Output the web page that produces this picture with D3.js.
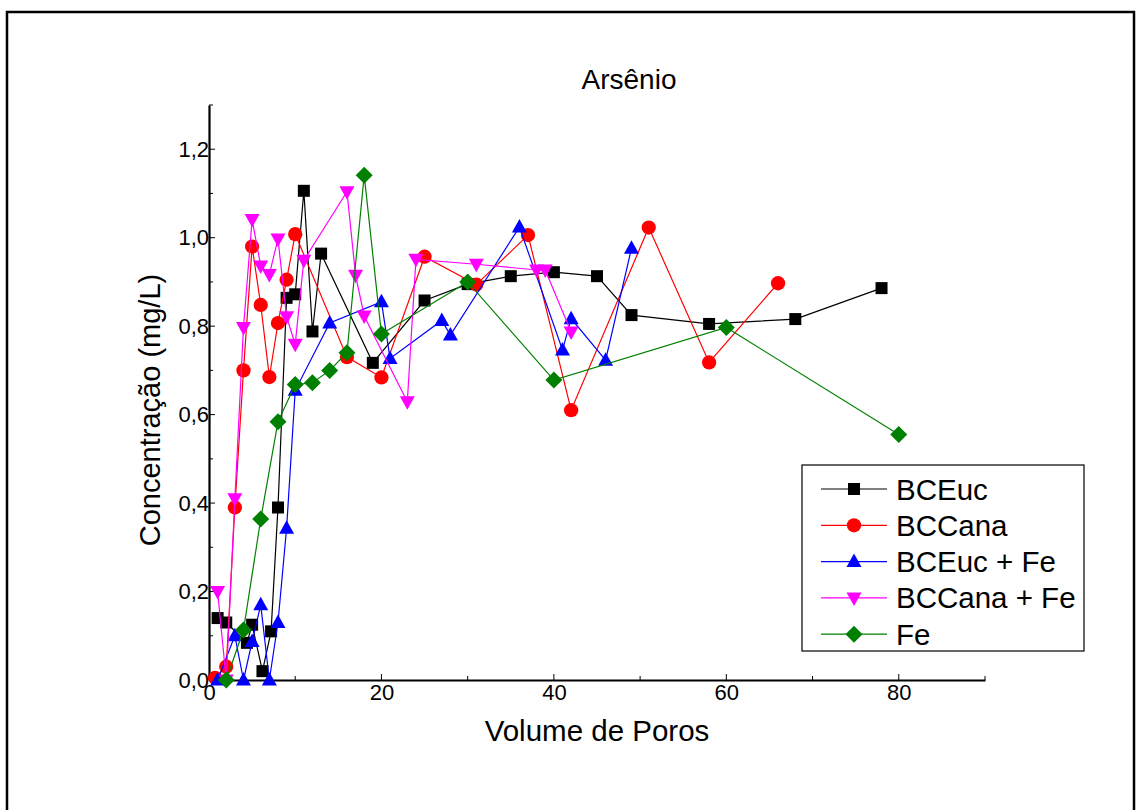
<!DOCTYPE html>
<html>
<head>
<meta charset="utf-8">
<script src="https://cdn.jsdelivr.net/npm/d3@7"></script>
<style>
body { margin: 0; background: #fff; }
text { font-family: "Liberation Sans", Arial, sans-serif; }
</style>
</head>
<body>
<div id="canvas"></div>
<script>
// ----------------------------------------------------------
// DATA -----------------------------------------------------
// ----------------------------------------------------------
var series_names = ["BCEuc", "BCCana", "BCEuc + Fe", "BCCana + Fe", "Fe"];

var bceuc_x = [1, 2, 4.4, 5, 6.2, 7.2, 8, 9, 10, 11, 12, 13, 19, 25, 30, 35, 40, 45, 49, 58, 68, 78];
var bceuc_y = [0.14, 0.13, 0.084, 0.125, 0.02, 0.11, 0.39, 0.864, 0.872, 1.106, 0.788, 0.964, 0.717, 0.858, 0.895, 0.913, 0.922, 0.913, 0.825, 0.805, 0.816, 0.886];

var bccana_x = [0.7, 2, 3, 4, 5, 6, 7, 8, 9, 10, 16, 20, 25, 31, 37, 42, 51, 58, 66];
var bccana_y = [0.005, 0.03, 0.39, 0.70, 0.98, 0.848, 0.685, 0.807, 0.905, 1.008, 0.73, 0.684, 0.957, 0.894, 1.006, 0.61, 1.023, 0.718, 0.897];

var bceucfe_x = [1, 3, 4, 5, 6, 7, 8, 9, 10, 14, 20, 21, 27, 28, 36, 41, 42, 46, 49];
var bceucfe_y = [0.0, 0.10, 0.0, 0.087, 0.17, 0.0, 0.13, 0.343, 0.655, 0.807, 0.855, 0.727, 0.813, 0.78, 1.024, 0.746, 0.817, 0.723, 0.976];

var bccanafe_x = [1, 2, 3, 4, 5, 6, 7, 8, 9, 10, 11, 16, 17, 18, 23, 24, 31, 38, 39, 42];
var bccanafe_y = [0.2, 0.0, 0.41, 0.797, 1.041, 0.936, 0.917, 0.997, 0.821, 0.759, 0.949, 1.104, 0.915, 0.823, 0.629, 0.951, 0.94, 0.927, 0.927, 0.787];

var fe_x = [2, 4, 6, 8, 10, 12, 14, 16, 18, 20, 30, 40, 60, 80];
var fe_y = [0.0, 0.113, 0.364, 0.584, 0.668, 0.672, 0.70, 0.74, 1.141, 0.782, 0.90, 0.678, 0.797, 0.555];

var x_ticks = [0, 20, 40, 60, 80];
var y_ticks = [0, 0.2, 0.4, 0.6, 0.8, 1.0, 1.2];

// ----------------------------------------------------------
// SETTINGS -------------------------------------------------
// ----------------------------------------------------------
var settings = {
  width: 1141,
  height: 810,
  plot_left: 209,
  plot_right: 985,
  plot_top: 105,
  plot_bottom: 680,
  colors: ["#000000", "#ff0000", "#0000ff", "#ff00ff", "#008000"],
  symbols: ["square", "circle", "up", "down", "diamond"]
};

// ----------------------------------------------------------
// STRUCTURE ------------------------------------------------
// ----------------------------------------------------------
var svg = d3.select("#canvas").append("svg")
  .attr("width", settings.width)
  .attr("height", settings.height)
  .style("display", "block")
  .style("background-color", "#fff");

// outer frame
svg.append("rect")
  .attr("x", 7).attr("y", 12)
  .attr("width", 1127).attr("height", 820)
  .attr("fill", "none")
  .attr("stroke", "#000")
  .attr("stroke-width", 2.5);

var xScale = d3.scaleLinear().domain([0, 90]).range([settings.plot_left, settings.plot_right]);
var yScale = d3.scaleLinear().domain([0, 1.3]).range([settings.plot_bottom, settings.plot_top]);

// ----------------------------------------------------------
// AXES -----------------------------------------------------
// ----------------------------------------------------------
var xAxis = svg.append("g")
  .attr("transform", "translate(0," + settings.plot_bottom + ")")
  .call(d3.axisBottom(xScale).tickValues(x_ticks).tickSize(0).tickPadding(4).tickFormat(d3.format("d")));
xAxis.select(".domain").attr("stroke-width", 2.2);
xAxis.selectAll(".tick text").style("font-size", "22px").attr("fill", "#000");

// inward ticks on x axis
svg.append("g").selectAll("line")
  .data(d3.range(0, 91, 10))
  .enter().append("line")
  .attr("x1", function(d) { return xScale(d); })
  .attr("x2", function(d) { return xScale(d); })
  .attr("y1", settings.plot_bottom)
  .attr("y2", function(d) { return settings.plot_bottom - (d % 20 === 0 ? 6 : 4); })
  .attr("stroke", "#000").attr("stroke-width", 1);

var yAxis = svg.append("g")
  .attr("transform", "translate(" + settings.plot_left + ",0)")
  .call(d3.axisLeft(yScale).tickValues(y_ticks).tickSize(0).tickPadding(0)
    .tickFormat(function(d) { return d3.format(".1f")(d).replace(".", ","); }));
yAxis.select(".domain").attr("stroke-width", 2.2);
yAxis.selectAll(".tick text").style("font-size", "22px").attr("fill", "#000");

// inward ticks on y axis
svg.append("g").selectAll("line")
  .data(d3.range(0, 14).map(function(i) { return i / 10; }))
  .enter().append("line")
  .attr("x1", settings.plot_left)
  .attr("x2", function(d, i) { return settings.plot_left + (i % 2 === 0 ? 6 : 4); })
  .attr("y1", function(d) { return yScale(d); })
  .attr("y2", function(d) { return yScale(d); })
  .attr("stroke", "#000").attr("stroke-width", 1);

// ----------------------------------------------------------
// GFX ------------------------------------------------------
// ----------------------------------------------------------
function symbolPath(kind) {
  if (kind === "square") return d3.symbol().type(d3.symbolSquare).size(144)();
  if (kind === "circle") return d3.symbol().type(d3.symbolCircle).size(160)();
  if (kind === "diamond") return "M0,-8.5L8.5,0L0,8.5L-8.5,0Z";
  if (kind === "up") return "M0,-8L7.5,5.5L-7.5,5.5Z";
  return "M0,8L7.5,-5.5L-7.5,-5.5Z";
}

var all_x = [bceuc_x, bccana_x, bceucfe_x, bccanafe_x, fe_x];
var all_y = [bceuc_y, bccana_y, bceucfe_y, bccanafe_y, fe_y];

var line = d3.line()
  .x(function(d) { return xScale(d[0]); })
  .y(function(d) { return yScale(d[1]); });

series_names.forEach(function(name, s) {
  var pts = all_x[s].map(function(x, i) { return [x, all_y[s][i]]; });
  var g = svg.append("g").attr("class", "series");
  g.append("path")
    .datum(pts)
    .attr("d", line)
    .attr("fill", "none")
    .attr("stroke", settings.colors[s])
    .attr("stroke-width", 1.2);
  g.selectAll("path.marker")
    .data(pts)
    .enter().append("path")
    .attr("class", "marker")
    .attr("d", symbolPath(settings.symbols[s]))
    .attr("transform", function(d) { return "translate(" + xScale(d[0]) + "," + yScale(d[1]) + ")"; })
    .attr("fill", settings.colors[s]);
});

// ----------------------------------------------------------
// LEGEND ---------------------------------------------------
// ----------------------------------------------------------
var legend = svg.append("g").attr("class", "legend");
legend.append("rect")
  .attr("x", 802).attr("y", 465)
  .attr("width", 282).attr("height", 186)
  .attr("fill", "#fff")
  .attr("stroke", "#000")
  .attr("stroke-width", 1.2);

series_names.forEach(function(name, s) {
  var y = 489 + s * 36.3;
  legend.append("line")
    .attr("x1", 821).attr("x2", 887)
    .attr("y1", y).attr("y2", y)
    .attr("stroke", settings.colors[s]).attr("stroke-width", 1.2);
  legend.append("path")
    .attr("d", symbolPath(settings.symbols[s]))
    .attr("transform", "translate(854," + y + ")")
    .attr("fill", settings.colors[s]);
  legend.append("text")
    .attr("x", 896).attr("y", y + 10.5)
    .style("font-size", "29.5px")
    .text(name);
});

// ----------------------------------------------------------
// TEXT -----------------------------------------------------
// ----------------------------------------------------------
svg.append("text")
  .attr("x", 629).attr("y", 89)
  .attr("text-anchor", "middle")
  .style("font-size", "28px")
  .text("Arsênio");

svg.append("text")
  .attr("x", 597).attr("y", 741)
  .attr("text-anchor", "middle")
  .style("font-size", "29.5px")
  .text("Volume de Poros");

svg.append("text")
  .attr("transform", "translate(160,410) rotate(-90)")
  .attr("text-anchor", "middle")
  .style("font-size", "29px")
  .text("Concentração (mg/L)");
</script>
</body>
</html>
